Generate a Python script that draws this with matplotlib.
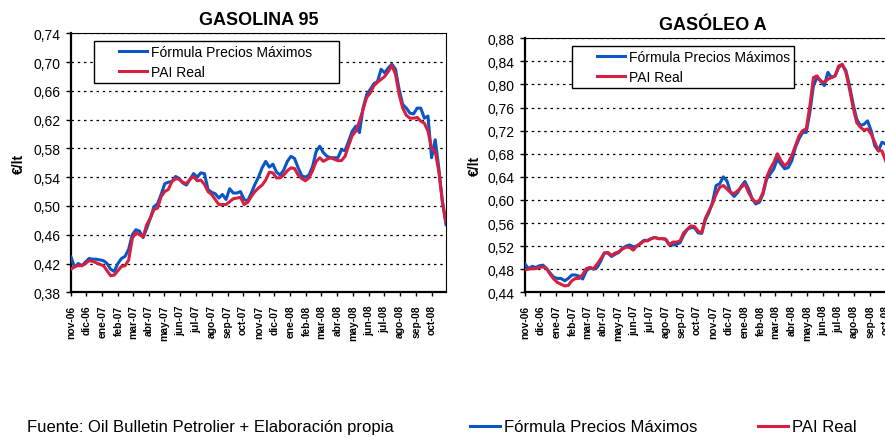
import matplotlib
matplotlib.use("Agg")
import numpy as np
import pandas as pd
import matplotlib.pyplot as plt
from matplotlib.ticker import FuncFormatter
from matplotlib.lines import Line2D
from matplotlib.legend_handler import HandlerLine2D
from matplotlib import font_manager

plt.rcParams["font.family"] = ["Liberation Sans", "DejaVu Sans"]

# Weekly observations, Nov 2006 - Oct 2008 (EUR per litre, before taxes)
WEEKS = pd.date_range("2006-11-01", periods=105, freq="7D")
MONTHS = pd.date_range("2006-11-01", periods=24, freq="MS")
MONTH_LABELS = ["nov-06", "dic-06", "ene-07", "feb-07", "mar-07", "abr-07",
                "may-07", "jun-07", "jul-07", "ago-07", "sep-07", "oct-07",
                "nov-07", "dic-07", "ene-08", "feb-08", "mar-08", "abr-08",
                "may-08", "jun-08", "jul-08", "ago-08", "sep-08", "oct-08"]

SERIES_NAMES = ["Fórmula Precios Máximos", "PAI Real"]

gasolina_formula = [
    0.429, 0.415, 0.420, 0.417, 0.422, 0.427, 0.426, 0.426, 0.425, 0.424,
    0.420, 0.412, 0.409, 0.420, 0.427, 0.430, 0.440, 0.460, 0.467, 0.465,
    0.456, 0.469, 0.483, 0.499, 0.503, 0.516, 0.531, 0.533, 0.534, 0.541,
    0.538, 0.532, 0.529, 0.537, 0.545, 0.540, 0.546, 0.545, 0.523, 0.519,
    0.517, 0.511, 0.516, 0.509, 0.524, 0.518, 0.518, 0.520, 0.509, 0.507,
    0.518, 0.530, 0.540, 0.553, 0.562, 0.554, 0.558, 0.547, 0.543, 0.550,
    0.562, 0.569, 0.566, 0.553, 0.542, 0.540, 0.543, 0.555, 0.576, 0.583,
    0.574, 0.569, 0.567, 0.567, 0.567, 0.578, 0.577, 0.590, 0.604, 0.611,
    0.602, 0.636, 0.655, 0.662, 0.670, 0.673, 0.690, 0.685, 0.692, 0.697,
    0.690, 0.662, 0.641, 0.636, 0.629, 0.628, 0.636, 0.636, 0.622, 0.625,
    0.567, 0.592, 0.553, 0.506, 0.474]

gasolina_pai = [
    0.412, 0.416, 0.417, 0.417, 0.420, 0.424, 0.423, 0.421, 0.419, 0.417,
    0.410, 0.403, 0.404, 0.410, 0.416, 0.417, 0.425, 0.455, 0.463, 0.460,
    0.457, 0.474, 0.483, 0.495, 0.497, 0.513, 0.520, 0.523, 0.534, 0.538,
    0.537, 0.533, 0.531, 0.537, 0.541, 0.535, 0.536, 0.530, 0.520, 0.516,
    0.509, 0.502, 0.502, 0.502, 0.506, 0.510, 0.511, 0.512, 0.502, 0.505,
    0.513, 0.520, 0.525, 0.529, 0.536, 0.547, 0.546, 0.539, 0.539, 0.543,
    0.549, 0.553, 0.552, 0.543, 0.538, 0.535, 0.539, 0.549, 0.562, 0.567,
    0.562, 0.565, 0.567, 0.565, 0.563, 0.563, 0.569, 0.584, 0.598, 0.604,
    0.618, 0.634, 0.651, 0.657, 0.667, 0.672, 0.676, 0.680, 0.687, 0.695,
    0.683, 0.655, 0.636, 0.626, 0.622, 0.622, 0.623, 0.618, 0.615, 0.604,
    0.580, 0.576, 0.548, 0.506, 0.478]

gasoleo_formula = [
    0.489, 0.481, 0.485, 0.483, 0.486, 0.487, 0.481, 0.473, 0.466, 0.464,
    0.464, 0.460, 0.464, 0.470, 0.470, 0.468, 0.463, 0.477, 0.483, 0.480,
    0.483, 0.494, 0.508, 0.508, 0.502, 0.506, 0.509, 0.516, 0.520, 0.522,
    0.519, 0.520, 0.525, 0.530, 0.530, 0.533, 0.535, 0.533, 0.533, 0.532,
    0.523, 0.522, 0.523, 0.526, 0.539, 0.549, 0.552, 0.552, 0.543, 0.542,
    0.565, 0.578, 0.596, 0.625, 0.628, 0.640, 0.633, 0.613, 0.606, 0.613,
    0.624, 0.632, 0.619, 0.602, 0.593, 0.596, 0.610, 0.636, 0.645, 0.654,
    0.671, 0.662, 0.654, 0.656, 0.668, 0.691, 0.706, 0.717, 0.717, 0.752,
    0.798, 0.812, 0.807, 0.798, 0.821, 0.812, 0.815, 0.830, 0.834, 0.824,
    0.798, 0.766, 0.740, 0.729, 0.731, 0.737, 0.720, 0.694, 0.685, 0.700,
    0.697]

gasoleo_pai = [
    0.479, 0.480, 0.481, 0.481, 0.483, 0.484, 0.481, 0.471, 0.463, 0.457,
    0.454, 0.451, 0.452, 0.460, 0.464, 0.464, 0.471, 0.481, 0.483, 0.481,
    0.489, 0.498, 0.508, 0.509, 0.504, 0.508, 0.510, 0.515, 0.518, 0.518,
    0.513, 0.520, 0.524, 0.529, 0.529, 0.533, 0.535, 0.533, 0.533, 0.532,
    0.522, 0.527, 0.527, 0.529, 0.543, 0.549, 0.555, 0.554, 0.546, 0.543,
    0.568, 0.581, 0.593, 0.610, 0.622, 0.625, 0.619, 0.613, 0.611, 0.616,
    0.622, 0.628, 0.613, 0.602, 0.596, 0.599, 0.613, 0.639, 0.654, 0.665,
    0.680, 0.668, 0.659, 0.665, 0.677, 0.694, 0.711, 0.720, 0.723, 0.763,
    0.812, 0.815, 0.805, 0.804, 0.809, 0.812, 0.815, 0.832, 0.835, 0.821,
    0.792, 0.760, 0.734, 0.726, 0.721, 0.723, 0.714, 0.700, 0.685, 0.685,
    0.668]

BLUE = "#0a56c6"
RED = "#d61f41"
LW = 2.2

# Narrow face for the month labels when it is available
_names = {f.name for f in font_manager.fontManager.ttflist}
MONTH_FONT = (["Liberation Sans Narrow", "Liberation Sans", "DejaVu Sans"]
              if "Liberation Sans Narrow" in _names
              else ["Liberation Sans", "DejaVu Sans"])
MONTH_SIZE = 8.4 if "Liberation Sans Narrow" in _names else 7.4

W, H = 885, 439
fig = plt.figure(figsize=(W / 100, H / 100), dpi=100)
fig.patch.set_facecolor("white")


def px_axes(x0, y_top, y_bot, width):
    return fig.add_axes([x0 / W, 1 - y_bot / H, width / W, (y_bot - y_top) / H])


def comma(v, _pos):
    return f"{v:.2f}".replace(".", ",")


def draw_panel(ax, formula, pai, title, lo, hi, nticks, leg_x, leg_w, ylabel_x):
    ax.plot(WEEKS[:len(formula)], formula, color=BLUE, lw=LW, zorder=3,
            label=SERIES_NAMES[0], solid_joinstyle="round")
    ax.plot(WEEKS[:len(pai)], pai, color=RED, lw=LW, zorder=4,
            label=SERIES_NAMES[1], solid_joinstyle="round")
    ax.set_xlim(WEEKS[0], WEEKS[-1])
    ax.set_ylim(lo, hi)
    ax.set_yticks(np.linspace(lo, hi, nticks))
    ax.yaxis.set_major_formatter(FuncFormatter(comma))
    ax.set_xticks(MONTHS)
    ax.set_xticklabels(MONTH_LABELS, rotation=90, fontsize=MONTH_SIZE,
                       fontweight="bold", family=MONTH_FONT)
    ax.tick_params(axis="y", labelsize=10, length=3.6, width=1, pad=4, direction="out")
    ax.tick_params(axis="x", length=3.2, width=1, pad=5.5, direction="out")
    ax.grid(axis="y", color="black", linestyle=(0, (2, 3)), linewidth=0.9, zorder=1)
    ax.set_axisbelow(True)
    for side in ("left", "bottom"):
        ax.spines[side].set_linewidth(1.6)
    for side in ("top", "right"):
        ax.spines[side].set_linewidth(0.8)
    ax.set_title(title, fontsize=13, fontweight="bold", pad=7)
    ax.set_ylabel("€/lt", fontsize=10, fontweight="bold")
    ax.yaxis.set_label_coords(ylabel_x, 0.5)
    leg = ax.legend(loc="upper left", bbox_to_anchor=(leg_x, 0.80, leg_w, 0.17),
                    mode="expand", fontsize=10, frameon=True, fancybox=False,
                    edgecolor="black", framealpha=1, borderpad=0.3,
                    labelspacing=0.4, handlelength=3.5, handletextpad=0.3,
                    borderaxespad=0,
                    handler_map={Line2D: HandlerLine2D(xpad=1.5)})
    leg.get_frame().set_linewidth(1.0)


ax1 = px_axes(71, 34.3, 293.3, 375)
draw_panel(ax1, gasolina_formula, gasolina_pai, "GASOLINA 95", 0.38, 0.74, 10,
           0.061, 0.653, -0.12)

ax2 = px_axes(525, 39.3, 293.3, 375)
draw_panel(ax2, gasoleo_formula, gasoleo_pai, "GASÓLEO A", 0.44, 0.88, 12,
           0.125, 0.592, -0.115)

fig.text(27 / W, 1 - 428 / H, "Fuente: Oil Bulletin Petrolier + Elaboración propia",
         fontsize=12, ha="left", va="center")

handles = [Line2D([], [], color=BLUE, lw=LW), Line2D([], [], color=RED, lw=LW)]
fig.legend(handles, SERIES_NAMES, ncol=2, loc="center left",
           bbox_to_anchor=(470 / W, 1 - 428 / H), frameon=False, fontsize=12,
           handlelength=1.8, handletextpad=0.25, columnspacing=3.6,
           borderpad=0, borderaxespad=0)

fig.savefig("out.png", dpi=100)
